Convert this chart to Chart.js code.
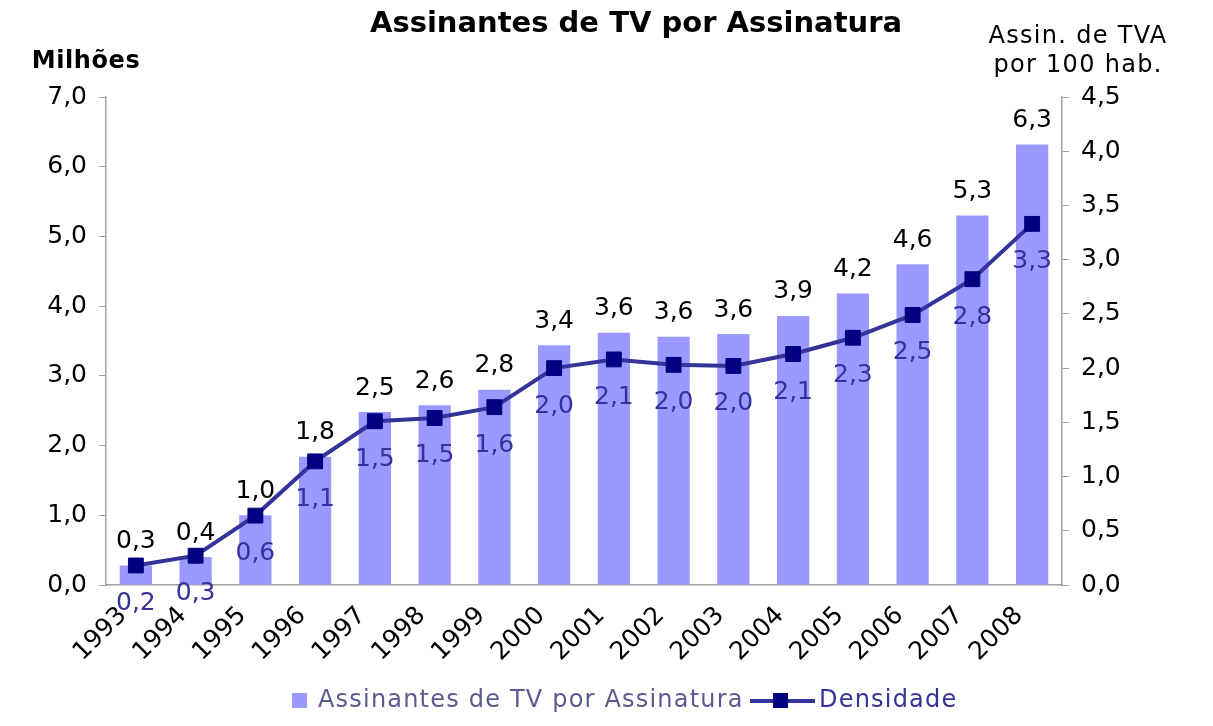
<!DOCTYPE html>
<html>
<head>
<meta charset="utf-8">
<script src="https://cdn.jsdelivr.net/npm/chart.js@4.4.0/dist/chart.umd.min.js"></script>
<style>
  html, body { margin: 0; padding: 0; background: #fff; }
  #wrap { width: 1213px; height: 726px; position: relative; }
</style>
</head>
<body>
<div id="wrap"><canvas id="tvChart" width="1213" height="726"></canvas></div>
<script>
// data
var anos = ["1993", "1994", "1995", "1996", "1997", "1998", "1999", "2000",
            "2001", "2002", "2003", "2004", "2005", "2006", "2007", "2008"];
var assinantes = [0.28, 0.40, 1.0, 1.84, 2.48, 2.58, 2.8, 3.44, 3.62, 3.56, 3.6, 3.86, 4.18, 4.6, 5.3, 6.32];
var densidade = [0.18, 0.27, 0.64, 1.14, 1.51, 1.54, 1.64, 2.0, 2.08, 2.03, 2.02, 2.13, 2.28, 2.49, 2.82, 3.33];

var FONT = "DejaVu Sans, Verdana, sans-serif";

function virgula(v) {
  return Number(v).toFixed(1).replace(".", ",");
}

// titles, axis captions and legend drawn straight on the canvas
var extras = {
  id: "extras",
  afterDraw: function (chart) {
    var ctx = chart.ctx;
    ctx.save();
    ctx.textAlign = "center";
    ctx.textBaseline = "middle";
    ctx.fillStyle = "#000";
    ctx.font = "bold 29px " + FONT;
    ctx.fillText("Assinantes de TV por Assinatura", 636, 24);
    ctx.letterSpacing = "0.6px";
    ctx.font = "bold 24px " + FONT;
    ctx.fillText("Milhões", 86, 62);
    ctx.letterSpacing = "1.3px";
    ctx.font = "24px " + FONT;
    ctx.fillText("Assin. de TVA", 1078, 37);
    ctx.fillText("por 100 hab.", 1078, 66);

    // legend
    var ly = 701;
    ctx.fillStyle = "#9999ff";
    ctx.fillRect(292, ly - 8, 15, 15);
    ctx.letterSpacing = "1.2px";
    ctx.textAlign = "left";
    ctx.fillStyle = "#5b5b8f";
    ctx.fillText("Assinantes de TV por Assinatura", 318, ly);
    ctx.strokeStyle = "#333399";
    ctx.lineWidth = 4;
    ctx.beginPath();
    ctx.moveTo(750, ly);
    ctx.lineTo(815, ly);
    ctx.stroke();
    ctx.fillStyle = "#000080";
    ctx.fillRect(773, ly - 8, 15, 15);
    ctx.fillStyle = "#333399";
    ctx.fillText("Densidade", 819, ly);
    ctx.restore();
  }
};

// value labels above bars and below line points
var rotulos = {
  id: "rotulos",
  afterDatasetsDraw: function (chart) {
    var ctx = chart.ctx;
    ctx.save();
    ctx.textAlign = "center";
    ctx.textBaseline = "middle";
    ctx.font = "25px " + FONT;
    var bars = chart.getDatasetMeta(1).data;
    ctx.fillStyle = "#000";
    bars.forEach(function (el, i) {
      ctx.fillText(virgula(assinantes[i]), el.x, el.y - 24);
    });
    var pts = chart.getDatasetMeta(0).data;
    ctx.fillStyle = "#333399";
    pts.forEach(function (el, i) {
      ctx.fillText(virgula(densidade[i]), el.x, el.y + 38);
    });
    ctx.restore();
  }
};

var ctx = document.getElementById("tvChart").getContext("2d");

new Chart(ctx, {
  data: {
    labels: anos,
    datasets: [
      {
        type: "line",
        label: "Densidade",
        data: densidade,
        yAxisID: "y1",
        borderColor: "#333399",
        borderWidth: 4,
        pointStyle: "rect",
        pointRadius: 10.5,
        pointHoverRadius: 10.5,
        pointBorderWidth: 1,
        pointBackgroundColor: "#000080",
        pointBorderColor: "#000080",
        tension: 0,
        order: 1
      },
      {
        type: "bar",
        label: "Assinantes de TV por Assinatura",
        data: assinantes,
        yAxisID: "y",
        backgroundColor: "#9999ff",
        categoryPercentage: 1,
        barPercentage: 0.54,
        order: 2
      }
    ]
  },
  options: {
    responsive: false,
    animation: false,
    layout: { padding: { top: 97, left: 0, right: 0, bottom: 0 } },
    plugins: {
      legend: { display: false },
      title: { display: false },
      tooltip: { enabled: false }
    },
    scales: {
      x: {
        offset: true,
        grid: { display: true, drawOnChartArea: false, drawTicks: false, color: "#a0a0a0" },
        border: { display: true, color: "#a0a0a0", width: 1.5 },
        ticks: {
          color: "#000",
          font: { family: FONT, size: 25 },
          maxRotation: 45,
          minRotation: 45,
          padding: 16,
          labelOffset: -13,
          autoSkip: false
        },
        afterFit: function (s) { s.height = 141; }
      },
      y: {
        position: "left",
        min: 0,
        max: 7,
        grid: { drawOnChartArea: false, drawTicks: true, tickLength: 7, color: "#a0a0a0" },
        border: { display: true, color: "#a0a0a0", width: 1.5 },
        ticks: {
          stepSize: 1,
          color: "#000",
          padding: 12,
          font: { family: FONT, size: 25 },
          callback: function (v) { return virgula(v); }
        },
        afterFit: function (s) { s.width = 106; }
      },
      y1: {
        position: "right",
        min: 0,
        max: 4.5,
        grid: { drawOnChartArea: false, drawTicks: true, tickLength: 7, color: "#9aa4b4" },
        border: { display: true, color: "#9aa4b4", width: 1.5 },
        ticks: {
          stepSize: 0.5,
          color: "#000",
          padding: 12,
          font: { family: FONT, size: 25 },
          callback: function (v) { return virgula(v); }
        },
        afterFit: function (s) { s.width = 151; }
      }
    }
  },
  plugins: [rotulos, extras]
});
</script>
</body>
</html>
